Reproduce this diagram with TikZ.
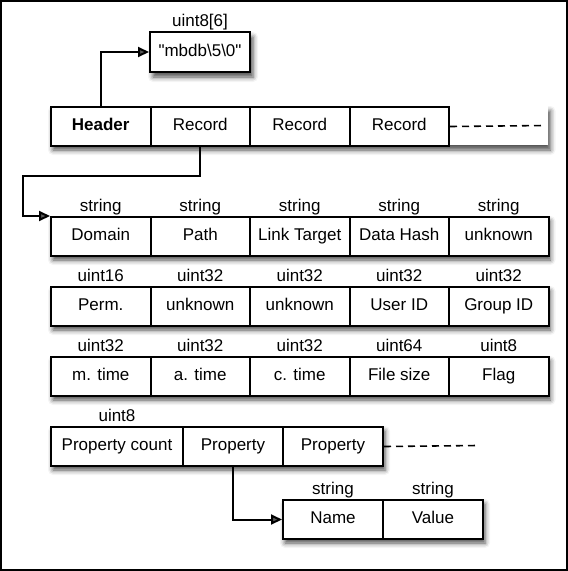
\documentclass[tikz,border=0pt]{standalone}
\usepackage{fontspec}
\setmainfont{Liberation Sans}[Ligatures=TeXOff]
\usetikzlibrary{arrows.meta,shadows.blur}
\begin{document}
\begin{tikzpicture}[x=1pt,y=-1pt,
  cell/.style={draw, fill=white, line width=2pt, minimum width=99.5pt, minimum height=39pt,
    inner sep=0pt, text height=12pt, text depth=3.5pt, anchor=north west, font=\fontsize{17}{19}\selectfont},
  wide/.style={cell, minimum width=132pt},
  typ/.style={anchor=base, inner sep=0pt, font=\fontsize{17}{19}\selectfont},
  shad/.style={blur shadow={shadow xshift=3pt, shadow yshift=-5pt, shadow blur radius=5pt, shadow opacity=70}},
  conn/.style={line width=2pt, -{Triangle[length=11pt,width=10pt]}},
  more/.style={line width=1.6pt, dash pattern=on 7pt off 5pt}
]
\useasboundingbox (0,0) rectangle (568,571);
\draw[line width=2.2pt] (1,1) rectangle (567,570);

% magic box
\node[cell, shad, minimum width=100pt, minimum height=40pt] (magic) at (149,31) {"mbdb\textbackslash 5\textbackslash 0"};
\node[typ] (tmagic) at ([yshift=5pt]magic.north) {uint8[6]};

% header row
\path[fill=white, shad] (50,106) rectangle (547.5,145);
\node[cell] (hdr) at (50,106) {\textbf{Header}};
\node[cell] (rec1) at (149.5,106) {Record};
\node[cell] (rec2) at (249,106) {Record};
\node[cell] (rec3) at (348.5,106) {Record};

% row 1
\path[fill=white, shad] (50,216) rectangle (547.5,255);
\node[cell] (dom) at (50,216) {Domain};
\node[cell] (path) at (149.5,216) {Path};
\node[cell] (link) at (249,216) {Link Target};
\node[cell] (hash) at (348.5,216) {Data Hash};
\node[cell] (unk1) at (448,216) {unknown};

% row 2
\path[fill=white, shad] (50,286) rectangle (547.5,325);
\node[cell] (perm) at (50,286) {Perm.};
\node[cell] (unk2) at (149.5,286) {unknown};
\node[cell] (unk3) at (249,286) {unknown};
\node[cell] (uid) at (348.5,286) {User ID};
\node[cell] (gid) at (448,286) {Group ID};

% row 3
\path[fill=white, shad] (50,356) rectangle (547.5,395);
\node[cell] (mt) at (50,356) {m. time};
\node[cell] (at) at (149.5,356) {a. time};
\node[cell] (ct) at (249,356) {c. time};
\node[cell] (fs) at (348.5,356) {File size};
\node[cell] (flag) at (448,356) {Flag};

% property row
\path[fill=white, shad] (50,426) rectangle (382,465);
\node[wide] (pc) at (50,426) {Property count};
\node[cell, minimum width=100pt] (prop1) at (182,426) {Property};
\node[cell, minimum width=100pt] (prop2) at (282,426) {Property};

% name/value row
\path[fill=white, shad] (282,499) rectangle (482,538);
\node[cell, minimum width=100pt] (name) at (282,499) {Name};
\node[cell, minimum width=100pt] (value) at (382,499) {Value};

% type labels
\foreach \n/\t in {dom/string,path/string,link/string,hash/string,unk1/string,
  perm/uint16,unk2/uint32,unk3/uint32,uid/uint32,gid/uint32,
  mt/uint32,at/uint32,ct/uint32,fs/uint64,flag/uint8,
  pc/uint8,name/string,value/string}
  \node[typ] (t\n) at ([yshift=5pt]\n.north) {\t};

% connectors
\coordinate (bend) at (23,176);
\draw[conn] (hdr.north) |- (magic.west);
\draw[conn] (rec1.south) |- (bend) |- (dom.north west);
\draw[conn] (prop1.south) |- (name.west);
\coordinate (end1) at (545,125.5);
\coordinate (end2) at (478,445.5);
\draw[more] (rec3.east) -- (end1);
\draw[more] (prop2.east) -- (end2);
\end{tikzpicture}
\end{document}
